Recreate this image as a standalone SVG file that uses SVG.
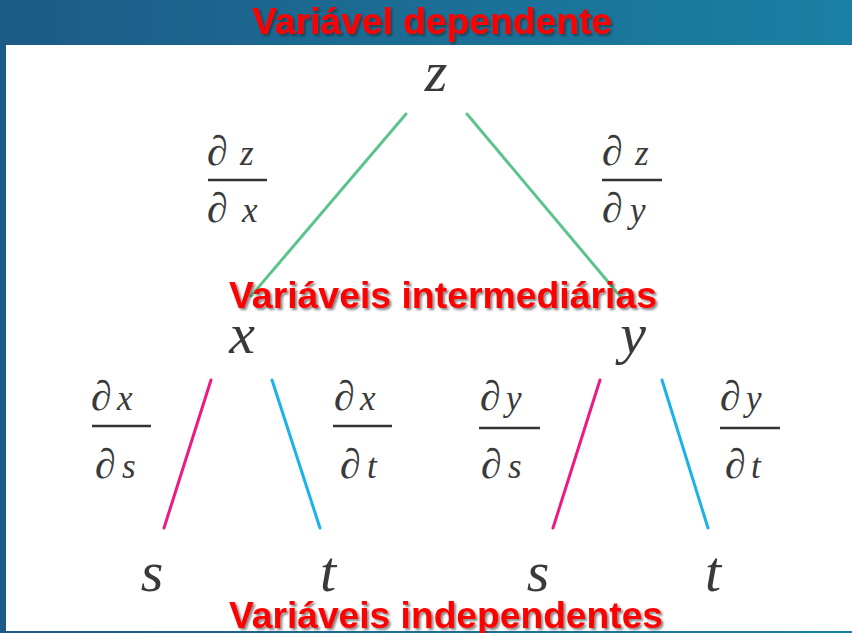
<svg xmlns="http://www.w3.org/2000/svg" width="852" height="633" viewBox="0 0 852 633">
<defs>
<linearGradient id="bg" x1="0" y1="0" x2="1" y2="0">
<stop offset="0" stop-color="#1c5b86"/>
<stop offset="1" stop-color="#1a80a3"/>
</linearGradient>
<filter id="sh" x="-5%" y="-20%" width="110%" height="150%">
<feDropShadow dx="2" dy="2" stdDeviation="1" flood-color="#222" flood-opacity="0.55"/>
</filter>
<style>
.title{font-family:"Liberation Sans",Arial,sans-serif;font-weight:bold;font-size:37px;fill:#ff0000;filter:url(#sh)}
.node{font-family:"Liberation Serif","Times New Roman",serif;font-style:italic;font-size:58px;fill:#3a3a3a;text-anchor:middle}
.frac{font-family:"Liberation Serif","Times New Roman",serif;font-style:italic;font-size:35px;fill:#3a3a3a}
.d{font-size:42px;font-style:normal}
.bar{stroke:#333;stroke-width:2.4}
.g{stroke:#5cc48a;stroke-width:3;stroke-linecap:round}
.p{stroke:#ec1a83;stroke-width:3;stroke-linecap:round}
.b{stroke:#1ab2e8;stroke-width:3;stroke-linecap:round}
</style>
</defs>
<rect x="0" y="0" width="852" height="633" fill="url(#bg)"/>
<rect x="6" y="45" width="846" height="586" fill="#ffffff"/>

<g id="connectors">
<line class="g" x1="406" y1="114" x2="251" y2="296"/>
<line class="g" x1="467" y1="114" x2="620" y2="296"/>
<line class="p" x1="211" y1="380" x2="164" y2="528"/>
<line class="b" x1="272" y1="380" x2="320" y2="528"/>
<line class="p" x1="600" y1="380" x2="553" y2="528"/>
<line class="b" x1="662" y1="380" x2="708" y2="528"/>
</g>

<g id="node-z"><text class="node" x="436" y="91">z</text></g>
<g id="node-x"><text class="node" x="242" y="353">x</text></g>
<g id="node-y"><text class="node" x="633" y="353">y</text></g>
<g id="node-s1"><text class="node" x="152" y="591">s</text></g>
<g id="node-t1"><text class="node" x="328" y="591">t</text></g>
<g id="node-s2"><text class="node" x="538" y="591">s</text></g>
<g id="node-t2"><text class="node" x="713" y="591">t</text></g>

<g id="frac-dz-dx">
<text class="frac" y="165"><tspan class="d" x="207">∂</tspan><tspan x="240">z</tspan></text>
<line class="bar" x1="208" y1="180" x2="267" y2="180"/>
<text class="frac" y="222"><tspan class="d" x="207">∂</tspan><tspan x="242">x</tspan></text>
</g>
<g id="frac-dz-dy">
<text class="frac" y="165"><tspan class="d" x="602">∂</tspan><tspan x="635">z</tspan></text>
<line class="bar" x1="602" y1="180" x2="662" y2="180"/>
<text class="frac" y="222"><tspan class="d" x="602">∂</tspan><tspan x="630">y</tspan></text>
</g>
<g id="frac-dx-ds">
<text class="frac" y="410"><tspan class="d" x="91">∂</tspan><tspan x="117">x</tspan></text>
<line class="bar" x1="92" y1="426" x2="151" y2="426"/>
<text class="frac" y="478"><tspan class="d" x="95">∂</tspan><tspan x="122">s</tspan></text>
</g>
<g id="frac-dx-dt">
<text class="frac" y="410"><tspan class="d" x="334">∂</tspan><tspan x="360">x</tspan></text>
<line class="bar" x1="333" y1="426" x2="392" y2="426"/>
<text class="frac" y="478"><tspan class="d" x="340">∂</tspan><tspan x="367">t</tspan></text>
</g>
<g id="frac-dy-ds">
<text class="frac" y="410"><tspan class="d" x="480">∂</tspan><tspan x="506">y</tspan></text>
<line class="bar" x1="479" y1="428" x2="540" y2="428"/>
<text class="frac" y="478"><tspan class="d" x="481">∂</tspan><tspan x="508">s</tspan></text>
</g>
<g id="frac-dy-dt">
<text class="frac" y="410"><tspan class="d" x="720">∂</tspan><tspan x="746">y</tspan></text>
<line class="bar" x1="720" y1="428" x2="780" y2="428"/>
<text class="frac" y="478"><tspan class="d" x="725">∂</tspan><tspan x="751">t</tspan></text>
</g>

<g id="label-dependente"><text class="title" x="252" y="34" textLength="360" lengthAdjust="spacingAndGlyphs">Variável dependente</text></g>
<g id="label-intermediarias"><text class="title" x="229" y="308" textLength="428" lengthAdjust="spacingAndGlyphs">Variáveis intermediárias</text></g>
<g id="label-independentes"><text class="title" x="229" y="628" textLength="434" lengthAdjust="spacingAndGlyphs">Variáveis independentes</text></g>
</svg>
